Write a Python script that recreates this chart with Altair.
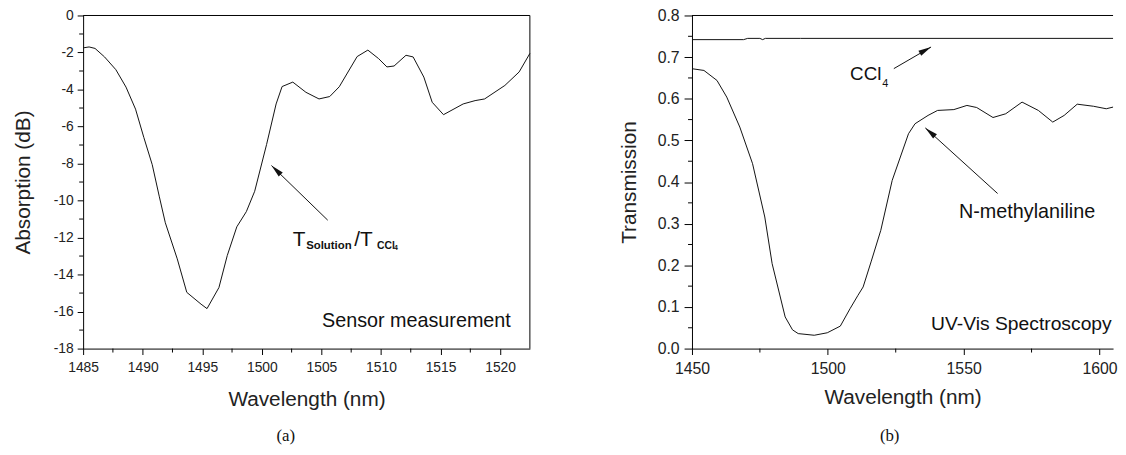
import altair as alt
import pandas as pd

# ---------------- data: panel (a) sensor measurement ----------------
wl_a = [1485.0, 1485.5, 1486.0, 1486.8, 1487.75, 1488.6, 1489.4, 1490.1, 1490.8,
        1491.4, 1491.9, 1492.9, 1493.7, 1494.9, 1495.4, 1496.4, 1497.1, 1497.9,
        1498.7, 1499.4, 1500.4, 1501.2, 1501.7, 1502.6, 1503.7, 1504.8, 1505.7,
        1506.5, 1508.0, 1508.9, 1509.8, 1510.5, 1511.1, 1512.1, 1512.7, 1513.6,
        1514.3, 1515.25, 1516.9, 1517.9, 1518.7, 1520.4, 1521.6, 1522.5]
db_a = [-1.75, -1.70, -1.78, -2.24, -2.93, -3.87, -5.06, -6.6, -8.06,
        -9.8, -11.2, -13.15, -14.96, -15.6, -15.84, -14.7, -12.97, -11.42,
        -10.6, -9.5, -6.97, -4.78, -3.84, -3.6, -4.15, -4.51, -4.38,
        -3.85, -2.22, -1.87, -2.33, -2.78, -2.73, -2.15, -2.24, -3.33,
        -4.69, -5.36, -4.78, -4.6, -4.51, -3.78, -3.05, -2.05]

# ---------------- data: panel (b) UV-Vis spectroscopy ----------------
wl_b = [1450.2, 1454.4, 1459.2, 1462.8, 1467.6, 1472.3, 1476.8, 1479.5, 1484.3,
        1487.0, 1489.1, 1495.0, 1499.8, 1504.6, 1508.2, 1511.1, 1513.0, 1516.0,
        1519.5, 1523.7, 1529.7, 1532.1, 1536.9, 1540.4, 1546.4, 1551.2, 1554.8,
        1560.8, 1565.5, 1571.5, 1577.5, 1582.8, 1587.0, 1591.8, 1597.8, 1602.5, 1605.0]
tr_b = [0.672, 0.668, 0.644, 0.604, 0.532, 0.444, 0.316, 0.204, 0.076,
        0.045, 0.036, 0.032, 0.038, 0.054, 0.096, 0.128, 0.148, 0.21,
        0.284, 0.404, 0.516, 0.54, 0.560, 0.572, 0.574, 0.584, 0.579,
        0.555, 0.564, 0.592, 0.572, 0.544, 0.560, 0.587, 0.582, 0.576, 0.580]
wl_ccl4 = [1450.0, 1469.0, 1470.5, 1475.0, 1476.0, 1477.0, 1490.0, 1605.0]
tr_ccl4 = [0.742, 0.742, 0.745, 0.745, 0.742, 0.745, 0.745, 0.745]

# ---------------- tick values ----------------
xticks_a = [1485, 1490, 1495, 1500, 1505, 1510, 1515, 1520]
xminor_a = [1487.5, 1492.5, 1497.5, 1502.5, 1507.5, 1512.5, 1517.5]
yticks_a = [0, -2, -4, -6, -8, -10, -12, -14, -16, -18]
yminor_a = [-1, -3, -5, -7, -9, -11, -13, -15, -17]
xticks_b = [1450, 1500, 1550, 1600]
xminor_b = [1475, 1525, 1575]
yticks_b = [0.0, 0.1, 0.2, 0.3, 0.4, 0.5, 0.6, 0.7, 0.8]
yminor_b = [0.05, 0.15, 0.25, 0.35, 0.45, 0.55, 0.65, 0.75]

FONT = "Liberation Sans"
INK = "#111111"
W_A, W_B, H = 452, 426, 337

xs_a = alt.Scale(domain=[1485, 1522.5], nice=False, zero=False)
ys_a = alt.Scale(domain=[-18, 0], nice=False, zero=False)
xs_b = alt.Scale(domain=[1450, 1605], nice=False, zero=False)
ys_b = alt.Scale(domain=[0, 0.8], nice=False, zero=False)


def txt(x, y, text, size, xs, ys, align="left", weight="normal"):
    d = pd.DataFrame({"wl": [x], "v": [y], "t": [text]})
    return alt.Chart(d).mark_text(
        align=align, baseline="alphabetic", fontSize=size, font=FONT,
        fontWeight=weight, color=INK
    ).encode(
        x=alt.X("wl:Q", scale=xs),
        y=alt.Y("v:Q", scale=ys),
        text="t:N",
    )


def arrow(x1, y1, x2, y2, angle, xs, ys):
    d = pd.DataFrame({"wl": [x1], "v": [y1], "wl2": [x2], "v2": [y2]})
    line = alt.Chart(d).mark_rule(color=INK, strokeWidth=1).encode(
        x=alt.X("wl:Q", scale=xs),
        y=alt.Y("v:Q", scale=ys),
        x2="wl2:Q", y2="v2:Q",
    )
    head = alt.Chart(pd.DataFrame({"wl": [x2], "v": [y2]})).mark_point(
        shape="M0,0L-0.45,2L0.45,2Z", filled=True, size=169, angle=angle,
        color=INK, opacity=1, strokeWidth=0
    ).encode(
        x=alt.X("wl:Q", scale=xs),
        y=alt.Y("v:Q", scale=ys),
    )
    return [line, head]


def minor_x(vals, xs, length=4):
    return alt.Chart(pd.DataFrame({"wl": vals})).mark_rule(color="black", strokeWidth=1).encode(
        x=alt.X("wl:Q", scale=xs), y=alt.value(H), y2=alt.value(H + length))


def minor_y(vals, ys, length=4):
    return alt.Chart(pd.DataFrame({"v": vals})).mark_rule(color="black", strokeWidth=1).encode(
        y=alt.Y("v:Q", scale=ys), x=alt.value(-length), x2=alt.value(0))


def frame_rule(**enc):
    return alt.Chart(pd.DataFrame({"k": [1]})).mark_rule(color="black", strokeWidth=1).encode(**enc)


def caption(label, px, py):
    d = pd.DataFrame({"t": [label]})
    return alt.Chart(d).mark_text(
        font="Liberation Serif", fontSize=17, color=INK, align="center", baseline="middle"
    ).encode(x=alt.value(px), y=alt.value(py), text="t:N")


def ax(values, title, label_expr, tick, lpad, lsize, tpad):
    return alt.Axis(
        values=values, tickCount=200, title=title, labelExpr=label_expr,
        tickSize=tick, labelPadding=lpad, labelFontSize=lsize, titlePadding=tpad,
        labelOverlap=False, labelFlush=False,
    )


# ---------------- panel (a) ----------------
df_a = pd.DataFrame({"wl": wl_a, "v": db_a})
line_a = alt.Chart(df_a).mark_line(color=INK, strokeWidth=1).encode(
    x=alt.X("wl:Q", scale=xs_a, axis=ax(
        xticks_a, "Wavelength (nm)", "'' + datum.value", 6, 6, 14, 15)),
    y=alt.Y("v:Q", scale=ys_a, axis=ax(
        yticks_a, "Absorption (dB)", "'' + datum.value", 6, 4, 14, 20)),
)

panel_a = alt.layer(
    line_a,
    frame_rule(x=alt.value(0), x2=alt.value(W_A), y=alt.value(0)),
    frame_rule(x=alt.value(W_A), y=alt.value(0), y2=alt.value(H)),
    minor_x(xminor_a, xs_a),
    minor_y(yminor_a, ys_a),
    *arrow(1505.53, -11.06, 1500.81, -8.11, 314, xs_a, ys_a),
    txt(1502.6, -12.44, "T", 21, xs_a, ys_a),
    txt(1503.72, -12.6, "Solution", 11.5, xs_a, ys_a, weight="bold"),
    txt(1507.75, -12.44, "/T", 21, xs_a, ys_a),
    txt(1509.67, -12.6, "CCl", 10.5, xs_a, ys_a, weight="bold"),
    txt(1511.1, -12.66, "4", 7, xs_a, ys_a, weight="bold"),
    txt(1520.9, -16.86, "Sensor measurement", 20, xs_a, ys_a, align="right"),
    caption("(a)", 205, 426),
).properties(width=W_A, height=H)

# ---------------- panel (b) ----------------
df_b = pd.DataFrame({"wl": wl_b, "v": tr_b})
df_c = pd.DataFrame({"wl": wl_ccl4, "v": tr_ccl4})
line_b = alt.Chart(df_b).mark_line(color=INK, strokeWidth=1).encode(
    x=alt.X("wl:Q", scale=xs_b, axis=ax(
        xticks_b, "Wavelength (nm)", "'' + datum.value", 6, 6, 16, 11)),
    y=alt.Y("v:Q", scale=ys_b, axis=ax(
        yticks_b, "Transmission", "format(datum.value, '.1f')", 8, 5, 16, 18)),
)
line_c = alt.Chart(df_c).mark_line(color=INK, strokeWidth=1).encode(
    x=alt.X("wl:Q", scale=xs_b),
    y=alt.Y("v:Q", scale=ys_b),
)

panel_b = alt.layer(
    line_b,
    line_c,
    frame_rule(x=alt.value(0), x2=alt.value(W_B), y=alt.value(0)),
    minor_x(xminor_b, xs_b),
    minor_y(yminor_b, ys_b),
    txt(1508.2, 0.644, "CCl", 19, xs_b, ys_b),
    txt(1520.0, 0.6276, "4", 11, xs_b, ys_b),
    *arrow(1524.3, 0.6724, 1538.0, 0.7243, 61, xs_b, ys_b),
    *arrow(1562.5, 0.3725, 1535.9, 0.530, 311, xs_b, ys_b),
    txt(1548.3, 0.3125, "N-methylaniline", 20, xs_b, ys_b),
    txt(1604.5, 0.0444, "UV-Vis Spectroscopy", 19.5, xs_b, ys_b, align="right"),
    caption("(b)", 200, 426),
).properties(width=W_B, height=H)

chart = alt.hconcat(panel_a, panel_b, spacing=86).properties(
    padding={"left": 4, "top": -4, "right": 0, "bottom": 0},
    background="white",
).configure_axis(
    grid=False, labelFont=FONT, titleFont=FONT, titleFontSize=21,
    titleFontWeight="normal", labelColor="#222222", titleColor="#222222",
    domainColor="black", tickColor="black", labelFlush=False, labelOverlap=False,
).configure_view(stroke="transparent")

chart.save("out.html", embed_options={"renderer": "svg", "actions": False})
